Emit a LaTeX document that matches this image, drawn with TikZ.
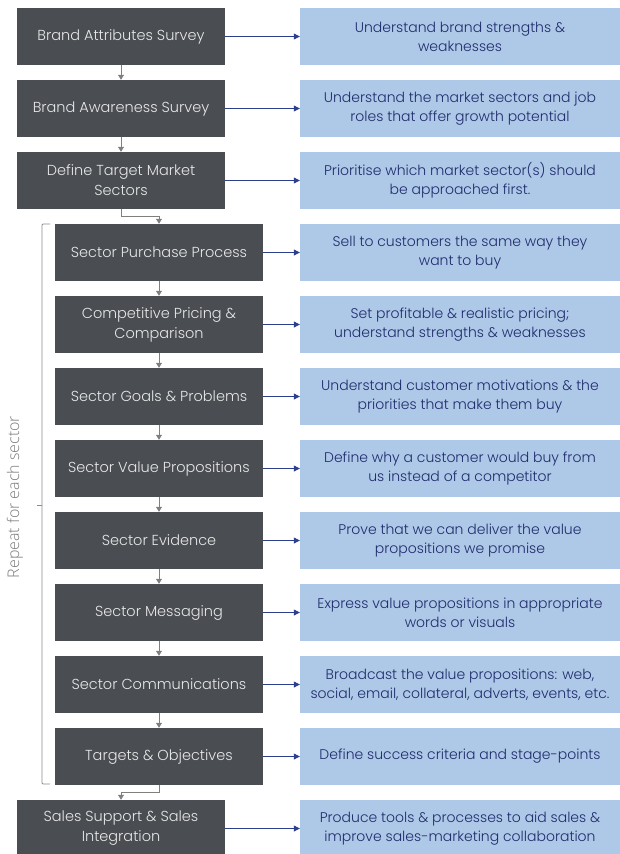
\documentclass[tikz,border=0pt]{standalone}
\usepackage{fontspec}
\usetikzlibrary{arrows.meta}
\newfontfamily\boxfont{Poppins Light}
\newfontfamily\notefont{Open Sans Light}
\definecolor{boxdark}{HTML}{4A4D52}
\definecolor{boxlight}{HTML}{AEC8E8}
\definecolor{navytext}{HTML}{1F2C6B}
\definecolor{arrowblue}{HTML}{2B3F8C}
\definecolor{conngray}{HTML}{7F7F7F}
\definecolor{bracegray}{HTML}{8C8C8C}
\definecolor{notegray}{HTML}{7A7A7A}
\definecolor{lighttext}{HTML}{E8E8E8}
\tikzset{
  darkbox/.style={fill=boxdark, text=lighttext, minimum width=208pt, minimum height=57pt,
    inner sep=0pt, align=center, font=\boxfont\fontsize{14.5}{20}\selectfont},
  lightbox/.style={fill=boxlight, text=navytext, minimum width=320pt, minimum height=57pt,
    inner sep=0pt, align=center, font=\boxfont\fontsize{14}{19}\selectfont},
  outarrow/.style={draw=arrowblue, line width=0.8pt, -{Triangle[length=6pt,width=6pt]}},
  downconn/.style={draw=conngray, line width=0.8pt, -{Triangle[length=5pt,width=6pt]}},
}
\begin{document}
\begin{tikzpicture}[x=1pt,y=-1pt]
\useasboundingbox (0,0) rectangle (619,854);
% left column
\node[darkbox] (L0) at (121,36.5) {Brand Attributes Survey};
\node[darkbox] (L1) at (121,108.5) {Brand Awareness Survey};
\node[darkbox] (L2) at (121,180.5) {Define Target Market\\Sectors};
\node[darkbox] (L3) at (159,252.5) {Sector Purchase Process};
\node[darkbox] (L4) at (159,324.5) {Competitive Pricing \&\\Comparison};
\node[darkbox] (L5) at (159,396.5) {Sector Goals \& Problems};
\node[darkbox] (L6) at (159,468.5) {Sector Value Propositions};
\node[darkbox] (L7) at (159,540.5) {Sector Evidence};
\node[darkbox] (L8) at (159,612.5) {Sector Messaging};
\node[darkbox] (L9) at (159,684.5) {Sector Communications};
\node[darkbox] (L10) at (159,756.5) {Targets \& Objectives};
\node[darkbox] (L11) at (121,828.5) {Sales Support \& Sales\\Integration};
% right column
\node[lightbox] (R0) at (460,36.5) {Understand brand strengths \&\\weaknesses};
\node[lightbox] (R1) at (460,108.5) {Understand the market sectors and job\\roles that offer growth potential};
\node[lightbox] (R2) at (460,180.5) {Prioritise which market sector(s) should\\be approached first.};
\node[lightbox] (R3) at (460,252.5) {Sell to customers the same way they\\want to buy};
\node[lightbox] (R4) at (460,324.5) {Set profitable \& realistic pricing;\\understand strengths \& weaknesses};
\node[lightbox] (R5) at (460,396.5) {Understand customer motivations \& the\\priorities that make them buy};
\node[lightbox] (R6) at (460,468.5) {Define why a customer would buy from\\us instead of a competitor};
\node[lightbox] (R7) at (460,540.5) {Prove that we can deliver the value\\propositions we promise};
\node[lightbox] (R8) at (460,612.5) {Express value propositions in appropriate\\words or visuals};
\node[lightbox] (R9) at (460,684.5) {Broadcast the value propositions: web,\\social, email, collateral, adverts, events, etc.};
\node[lightbox] (R10) at (460,756.5) {Define success criteria and stage-points};
\node[lightbox] (R11) at (460,828.5) {Produce tools \& processes to aid sales \&\\improve sales-marketing collaboration};
% horizontal arrows
\foreach \i in {0,...,11} {\draw[outarrow] (L\i.east) -- (R\i.west);}
% vertical connectors
\draw[downconn] (L0.south) -- (L1.north);
\draw[downconn] (L1.south) -- (L2.north);
\draw[downconn] (L2.south) -- ++(0,7) -| (L3.north);
\foreach \a/\b in {3/4,4/5,5/6,6/7,7/8,8/9,9/10} {\draw[downconn] (L\a.south) -- (L\b.north);}
\draw[downconn] (L10.south) -- ++(0,7) -| (L11.north);
% brace
\draw[bracegray, line width=0.9pt, rounded corners=1pt] (50,224) -- (42,224) -- (42,784) -- (50,784);
\draw[bracegray, line width=0.9pt] (42,505) -- (37,505);
\node[rotate=90, text=notegray, font=\notefont\fontsize{16}{18}\selectfont] (rep) at (15,497) {Repeat for each sector};
\end{tikzpicture}
\end{document}
